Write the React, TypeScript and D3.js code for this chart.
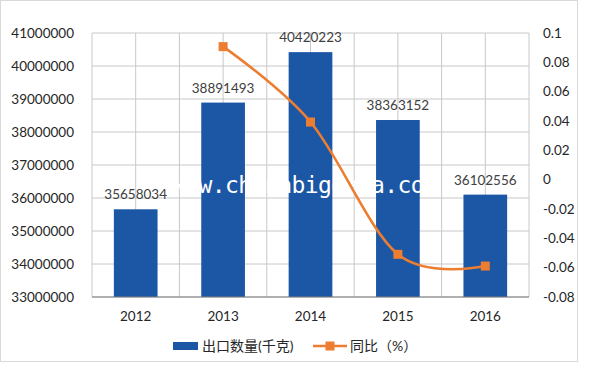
import React from "react";
import * as d3 from "d3";

const years = ["2012", "2013", "2014", "2015", "2016"];
const exportQty = [35658034, 38891493, 40420223, 38363152, 36102556];
const yoy = [null, 0.0907, 0.0393, -0.0509, -0.0589];
const leftTicks = [33000000, 34000000, 35000000, 36000000, 37000000, 38000000, 39000000, 40000000, 41000000];
const rightTicks = [0.1, 0.08, 0.06, 0.04, 0.02, 0, -0.02, -0.04, -0.06, -0.08];
const barLabel = "出口数量(千克)";
const lineLabel = "同比（%）";
const watermark = "www.chinabigdata.com";

const W = 600, H = 369;
const L = 92, R = 529, T = 33, B = 297;
const BAR = "#1c57a5";
const ORANGE = "#ed7d31";
const GRID = "#c8c8c8";
const TXT = "#262626";
const FONT = "Lato, 'Noto Sans CJK SC', sans-serif";

export default function App() {
  const x = d3.scaleBand<string>().domain(years).range([L, R]).paddingInner(0.5).paddingOuter(0.25);
  const yL = d3.scaleLinear().domain([33000000, 41000000]).range([B, T]);
  const yR = d3.scaleLinear().domain([-0.08, 0.1]).range([B, T]);
  const step = x.step();
  const cx = (d: string) => (x(d) as number) + x.bandwidth() / 2;

  const vLines: number[] = [];
  years.forEach((d) => {
    vLines.push(cx(d) - step / 2);
    vLines.push(cx(d));
  });
  vLines.push(cx(years[years.length - 1]) + step / 2);

  const pts = years
    .map((d, i) => ({ d, v: yoy[i] }))
    .filter((p) => p.v !== null) as { d: string; v: number }[];
  const line = d3
    .line<{ d: string; v: number }>()
    .x((p) => cx(p.d))
    .y((p) => yR(p.v))
    .curve(d3.curveCardinal.tension(0));

  return (
    <svg width={W} height={H} style={{ position: "absolute", left: 0, top: 0, background: "#fff" }} fontFamily={FONT}>
      <rect x={0.5} y={0.5} width={577} height={361} fill="#fff" stroke="#d9d9d9" />
      {leftTicks.map((t) => (
        <line key={"h" + t} x1={L} x2={R} y1={yL(t)} y2={yL(t)} stroke={GRID} strokeWidth={1} />
      ))}
      {vLines.map((v, i) => (
        <line key={"v" + i} x1={v} x2={v} y1={T} y2={B} stroke={GRID} strokeWidth={1} />
      ))}
      {years.map((d, i) => (
        <rect key={"b" + d} x={x(d)} y={yL(exportQty[i])} width={x.bandwidth()} height={B - yL(exportQty[i])} fill={BAR} />
      ))}
      <line x1={L} x2={R} y1={B} y2={B} stroke="#7f7f7f" strokeWidth={1.2} />
      <text x={172} y={193} fill="#fff" fontSize={23} fontFamily="'DejaVu Sans Mono', monospace" textLength={266} lengthAdjust="spacing">
        {watermark}
      </text>
      {years.map((d, i) => (
        <text key={"l" + d} x={cx(d)} y={yL(exportQty[i]) - 10} textAnchor="middle" fontSize={13.5} fill="#404040">
          {exportQty[i]}
        </text>
      ))}
      <path d={line(pts) || ""} fill="none" stroke={ORANGE} strokeWidth={2.6} />
      {pts.map((p) => (
        <rect key={"m" + p.d} x={cx(p.d) - 4.5} y={yR(p.v) - 4.5} width={9} height={9} fill={ORANGE} />
      ))}
      {leftTicks.map((t) => (
        <text key={"lt" + t} x={74} y={yL(t)} dy="0.35em" textAnchor="end" fontSize={13.5} fill={TXT}>
          {t}
        </text>
      ))}
      {rightTicks.map((t) => (
        <text key={"rt" + t} x={543} y={yR(t)} dy="0.35em" textAnchor="start" fontSize={13.5} fill={TXT}>
          {String(t)}
        </text>
      ))}
      {years.map((d) => (
        <text key={"x" + d} x={cx(d)} y={316} dy="0.35em" textAnchor="middle" fontSize={13.5} fill={TXT}>
          {d}
        </text>
      ))}
      <rect x={173} y={342} width={25} height={8} fill={BAR} />
      <text x={202} y={346.5} dy="0.35em" fontSize={14} fill={TXT}>{barLabel}</text>
      <line x1={313} x2={347} y1={346} y2={346} stroke={ORANGE} strokeWidth={2.6} />
      <rect x={325.5} y={341.5} width={9} height={9} fill={ORANGE} />
      <text x={350} y={346.5} dy="0.35em" fontSize={14} fill={TXT}>{lineLabel}</text>
    </svg>
  );
}
